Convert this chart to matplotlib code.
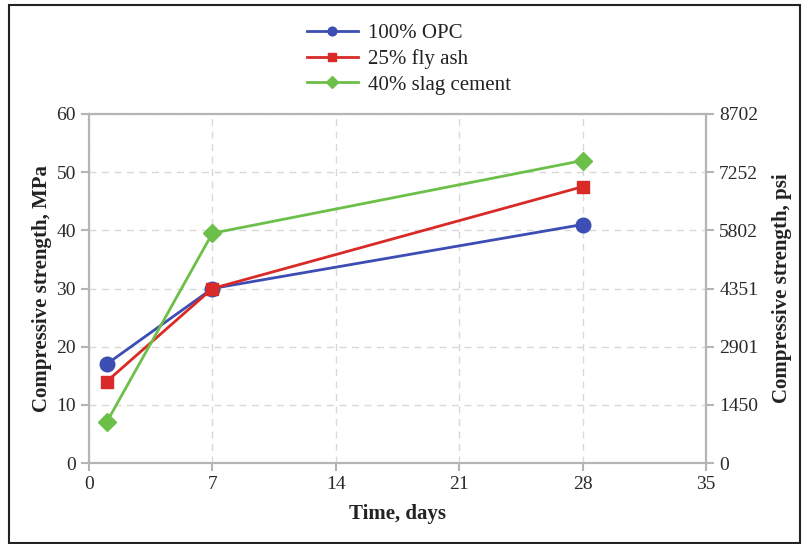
import matplotlib
matplotlib.use("Agg")
import matplotlib.pyplot as plt
from matplotlib.patches import Rectangle

days = [1, 7, 28]
opc = [17, 30, 41]
fly_ash = [14, 30, 47.5]
slag = [7, 39.5, 52]
series_names = ["100% OPC", "25% fly ash", "40% slag cement"]
x_ticks = [0, 7, 14, 21, 28, 35]
y_ticks = [0, 10, 20, 30, 40, 50, 60]
psi_labels = ["0", "1450", "2901", "4351", "5802", "7252", "8702"]

plt.rcParams['font.family'] = ['Liberation Serif', 'DejaVu Serif']

fig = plt.figure(figsize=(8.06, 5.44), dpi=100)
ax = fig.add_axes([89/806, 1-463/544, (706-89)/806, (463-114)/544])

grey = '#b5b5b5'
tick_col = '#2a2a2a'
styles = [
    dict(color='#3c4db3', marker='o', ms=10.5),
    dict(color='#d92a27', marker='s', ms=9),
    dict(color='#6cc04a', marker='D', ms=9.5),
]
for vals, name, st in zip([opc, fly_ash, slag], series_names, styles):
    ax.plot(days, vals, color=st['color'], marker=st['marker'], ms=st['ms'],
            lw=2, label=name, zorder=3)

ax.set_xlim(0, 35)
ax.set_ylim(0, 60)
ax.set_xticks(x_ticks)
ax.set_yticks(y_ticks)
ax.grid(True, color='#d8d8d8', linestyle=(0, (5, 4)), lw=1)
for s in ax.spines.values():
    s.set_color(grey)
    s.set_linewidth(1.5)
ax.tick_params(colors=grey, labelcolor=tick_col, labelsize=14, width=1.5, length=6, direction='out')
ax.set_xlabel("Time, days", fontsize=15, fontweight='bold', color='#222222', labelpad=8)
ax.set_ylabel("Compressive strength, MPa", fontsize=15, fontweight='bold', color='#222222', labelpad=3)

ax2 = ax.twinx()
ax2.set_ylim(0, 60)
ax2.set_yticks(y_ticks)
ax2.set_yticklabels(psi_labels)
for s in ax2.spines.values():
    s.set_color(grey)
    s.set_linewidth(1.5)
ax2.tick_params(colors=grey, labelcolor=tick_col, labelsize=14, width=1.5, length=6, direction='out')
ax2.set_ylabel("Compressive strength, psi", fontsize=15, fontweight='bold', color='#222222', labelpad=10)

leg = ax.legend(loc='center', bbox_to_anchor=(409/806, 1-59/544), bbox_transform=fig.transFigure,
                frameon=False, fontsize=15, markerscale=0.6, handlelength=2.45,
                labelspacing=0.3, handletextpad=0.5)
for t in leg.get_texts():
    t.set_color('#222222')

fig.patches.append(Rectangle((9/806, 1-543/544), (800-9)/806, (543-5)/544,
                             transform=fig.transFigure, fill=False,
                             edgecolor='#222222', lw=1.5))

fig.savefig("out.png", dpi=100)
